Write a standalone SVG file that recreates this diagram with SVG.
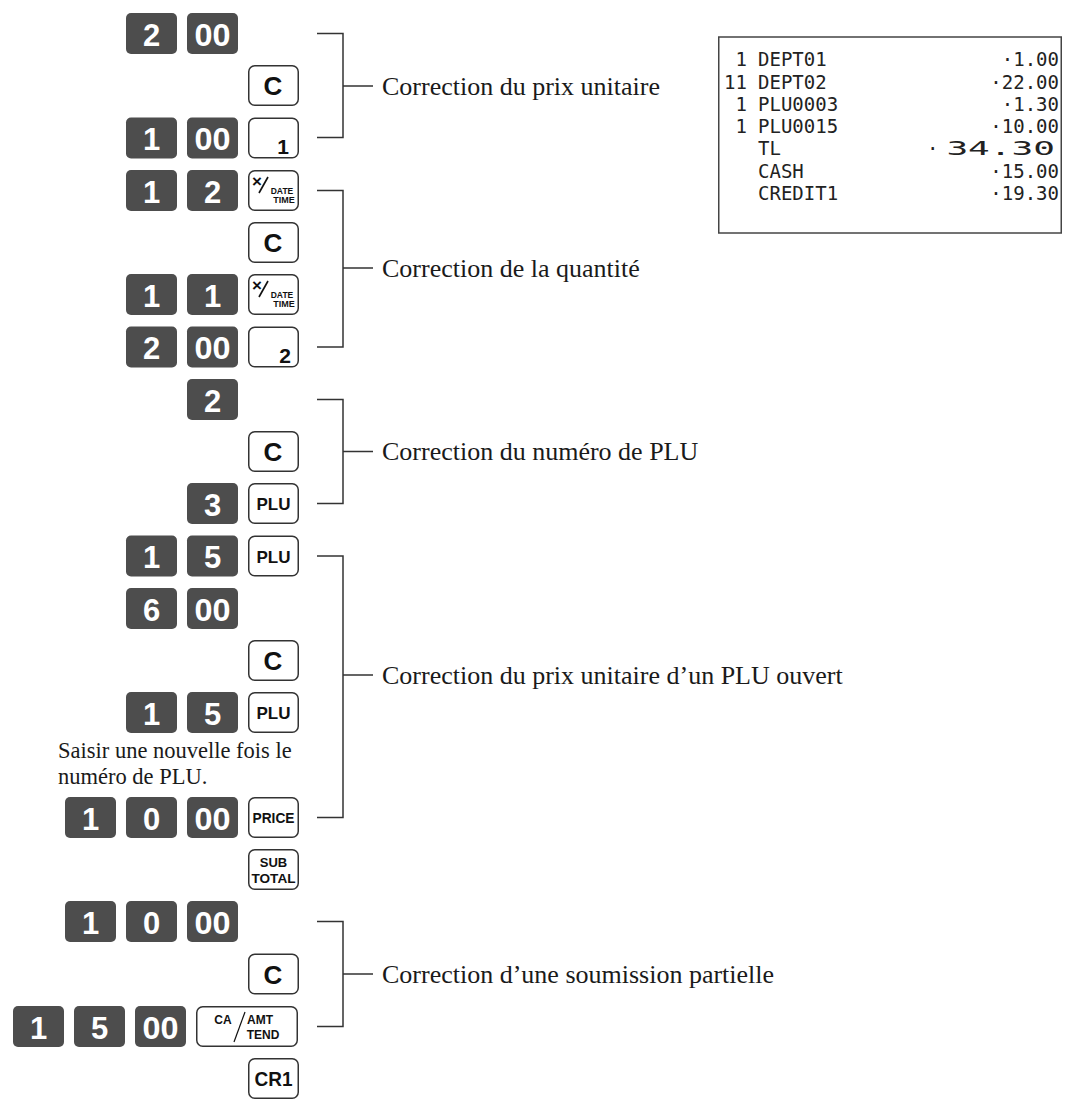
<svg xmlns="http://www.w3.org/2000/svg" width="1068" height="1104" viewBox="0 0 1068 1104">
<style>
.dk{fill:#4d4d4d}
.dt{fill:#fff;font-family:"Liberation Sans",Arial,sans-serif;font-weight:bold;font-size:31px;text-anchor:middle}
.wk{fill:#fff;stroke:#333;stroke-width:1.5}
.ct{fill:#111;font-family:"Liberation Sans",Arial,sans-serif;font-weight:bold;font-size:26px;text-anchor:middle}
.st{fill:#111;font-family:"Liberation Sans",Arial,sans-serif;font-weight:bold;text-anchor:middle}
.br{fill:none;stroke:#333;stroke-width:1.5}
.lb{fill:#1a1a1a;font-family:"Liberation Serif","Times New Roman",serif;font-size:26px}
.nt{fill:#1a1a1a;font-family:"Liberation Serif","Times New Roman",serif;font-size:22.5px}
.rc{fill:#222;font-family:"DejaVu Sans Mono",monospace;font-size:19px}
.re{text-anchor:end}
</style>
<defs>
<rect id="dkey" class="dk" width="51" height="41" rx="5"/>
<rect id="wkey" class="wk" x="0.75" y="0.75" width="49.5" height="39.5" rx="6"/>
</defs>
<rect width="1068" height="1104" fill="#fff"/>

<!-- row 0 -->
<g id="r0-2" transform="translate(126,13)"><use href="#dkey"/><text class="dt" x="25.5" y="32.5">2</text></g>
<g id="r0-00" transform="translate(187,13)"><use href="#dkey"/><text class="dt" x="25.5" y="32.5" textLength="36" lengthAdjust="spacingAndGlyphs">00</text></g>
<!-- row 1 -->
<g id="r1-C" transform="translate(248,65)"><use href="#wkey"/><text class="ct" x="25" y="30">C</text></g>
<!-- row 2 -->
<g id="r2-1" transform="translate(126,117.5)"><use href="#dkey"/><text class="dt" x="25.5" y="32.5">1</text></g>
<g id="r2-00" transform="translate(187,117.5)"><use href="#dkey"/><text class="dt" x="25.5" y="32.5" textLength="36" lengthAdjust="spacingAndGlyphs">00</text></g>
<g id="r2-k1" transform="translate(248,117.5)"><use href="#wkey"/><text class="st" x="35" y="36" font-size="21">1</text></g>
<!-- row 3 -->
<g id="r3-1" transform="translate(126,170)"><use href="#dkey"/><text class="dt" x="25.5" y="32.5">1</text></g>
<g id="r3-2" transform="translate(187,170)"><use href="#dkey"/><text class="dt" x="25.5" y="32.5">2</text></g>
<g id="r3-x" transform="translate(248,170)"><use href="#wkey"/><text class="st" x="9" y="17" font-size="17">×</text><path d="M11,23 L20,7" stroke="#111" stroke-width="1.6" fill="none"/><text class="st" x="34" y="24" font-size="8.5" font-weight="normal" fill="#666">DATE</text><text class="st" x="36" y="33" font-size="9">TIME</text></g>
<!-- row 4 -->
<g id="r4-C" transform="translate(248,222)"><use href="#wkey"/><text class="ct" x="25" y="30">C</text></g>
<!-- row 5 -->
<g id="r5-1" transform="translate(126,274)"><use href="#dkey"/><text class="dt" x="25.5" y="32.5">1</text></g>
<g id="r5-1b" transform="translate(187,274)"><use href="#dkey"/><text class="dt" x="25.5" y="32.5">1</text></g>
<g id="r5-x" transform="translate(248,274)"><use href="#wkey"/><text class="st" x="9" y="17" font-size="17">×</text><path d="M11,23 L20,7" stroke="#111" stroke-width="1.6" fill="none"/><text class="st" x="34" y="24" font-size="8.5" font-weight="normal" fill="#666">DATE</text><text class="st" x="36" y="33" font-size="9">TIME</text></g>
<!-- row 6 -->
<g id="r6-2" transform="translate(126,326.5)"><use href="#dkey"/><text class="dt" x="25.5" y="32.5">2</text></g>
<g id="r6-00" transform="translate(187,326.5)"><use href="#dkey"/><text class="dt" x="25.5" y="32.5" textLength="36" lengthAdjust="spacingAndGlyphs">00</text></g>
<g id="r6-k2" transform="translate(248,326.5)"><use href="#wkey"/><text class="st" x="37" y="36" font-size="21">2</text></g>
<!-- row 7 -->
<g id="r7-2" transform="translate(187,379)"><use href="#dkey"/><text class="dt" x="25.5" y="32.5">2</text></g>
<!-- row 8 -->
<g id="r8-C" transform="translate(248,431)"><use href="#wkey"/><text class="ct" x="25" y="30">C</text></g>
<!-- row 9 -->
<g id="r9-3" transform="translate(187,483)"><use href="#dkey"/><text class="dt" x="25.5" y="32.5">3</text></g>
<g id="r9-plu" transform="translate(248,483)"><use href="#wkey"/><text class="st" x="25.5" y="27" font-size="17">PLU</text></g>
<!-- row 10 -->
<g id="r10-1" transform="translate(126,535.5)"><use href="#dkey"/><text class="dt" x="25.5" y="32.5">1</text></g>
<g id="r10-5" transform="translate(187,535.5)"><use href="#dkey"/><text class="dt" x="25.5" y="32.5">5</text></g>
<g id="r10-plu" transform="translate(248,535.5)"><use href="#wkey"/><text class="st" x="25.5" y="27" font-size="17">PLU</text></g>
<!-- row 11 -->
<g id="r11-6" transform="translate(126,588)"><use href="#dkey"/><text class="dt" x="25.5" y="32.5">6</text></g>
<g id="r11-00" transform="translate(187,588)"><use href="#dkey"/><text class="dt" x="25.5" y="32.5" textLength="36" lengthAdjust="spacingAndGlyphs">00</text></g>
<!-- row 12 -->
<g id="r12-C" transform="translate(248,640)"><use href="#wkey"/><text class="ct" x="25" y="30">C</text></g>
<!-- row 13 -->
<g id="r13-1" transform="translate(126,692)"><use href="#dkey"/><text class="dt" x="25.5" y="32.5">1</text></g>
<g id="r13-5" transform="translate(187,692)"><use href="#dkey"/><text class="dt" x="25.5" y="32.5">5</text></g>
<g id="r13-plu" transform="translate(248,692)"><use href="#wkey"/><text class="st" x="25.5" y="27" font-size="17">PLU</text></g>
<!-- note -->
<g id="note"><text class="nt"><tspan x="58" y="757.5">Saisir une nouvelle fois le</tspan><tspan x="58" y="783.5">numéro de PLU.</tspan></text></g>
<!-- row 15 -->
<g id="r15-1" transform="translate(65,797)"><use href="#dkey"/><text class="dt" x="25.5" y="32.5">1</text></g>
<g id="r15-0" transform="translate(126,797)"><use href="#dkey"/><text class="dt" x="25.5" y="32.5">0</text></g>
<g id="r15-00" transform="translate(187,797)"><use href="#dkey"/><text class="dt" x="25.5" y="32.5" textLength="36" lengthAdjust="spacingAndGlyphs">00</text></g>
<g id="r15-price" transform="translate(248,797)"><use href="#wkey"/><text class="st" x="25.5" y="26" font-size="15" textLength="42" lengthAdjust="spacingAndGlyphs">PRICE</text></g>
<!-- row 16 -->
<g id="r16-sub" transform="translate(248,849)"><use href="#wkey"/><text class="st" x="25.5" y="18" font-size="13">SUB</text><text class="st" x="25.5" y="34" font-size="13" textLength="44" lengthAdjust="spacingAndGlyphs">TOTAL</text></g>
<!-- row 17 -->
<g id="r17-1" transform="translate(65,901)"><use href="#dkey"/><text class="dt" x="25.5" y="32.5">1</text></g>
<g id="r17-0" transform="translate(126,901)"><use href="#dkey"/><text class="dt" x="25.5" y="32.5">0</text></g>
<g id="r17-00" transform="translate(187,901)"><use href="#dkey"/><text class="dt" x="25.5" y="32.5" textLength="36" lengthAdjust="spacingAndGlyphs">00</text></g>
<!-- row 18 -->
<g id="r18-C" transform="translate(248,953.5)"><use href="#wkey"/><text class="ct" x="25" y="30">C</text></g>
<!-- row 19 -->
<g id="r19-1" transform="translate(13,1006)"><use href="#dkey"/><text class="dt" x="25.5" y="32.5">1</text></g>
<g id="r19-5" transform="translate(74,1006)"><use href="#dkey"/><text class="dt" x="25.5" y="32.5">5</text></g>
<g id="r19-00" transform="translate(135,1006)"><use href="#dkey"/><text class="dt" x="25.5" y="32.5" textLength="36" lengthAdjust="spacingAndGlyphs">00</text></g>
<g id="r19-ca" transform="translate(196,1006)"><rect class="wk" x="0.75" y="0.75" width="100.5" height="39.5" rx="6"/><text class="st" x="27" y="18" font-size="12" font-weight="normal">CA</text><path d="M38,36 L49,6" stroke="#111" stroke-width="1.2" fill="none"/><text class="st" x="64" y="18" font-size="12" font-weight="normal">AMT</text><text class="st" x="67" y="33" font-size="12" font-weight="normal">TEND</text></g>
<!-- row 20 -->
<g id="r20-cr1" transform="translate(248,1058)"><use href="#wkey"/><text class="st" x="25.5" y="28" font-size="20" textLength="38" lengthAdjust="spacingAndGlyphs">CR1</text></g>

<!-- connectors -->
<g id="connectors" class="br">
<path d="M317,33.5 H343 V137.5 H317 M343,86 H373"/>
<path d="M317,190.5 H343 V347 H317 M343,268 H373"/>
<path d="M317,399.5 H343 V503.5 H317 M343,451.5 H373"/>
<path d="M317,556 H343 V817.5 H317 M343,675 H373"/>
<path d="M317,921.5 H343 V1026.5 H317 M343,974 H373"/>
</g>
<g id="labels">
<text class="lb" x="382" y="95">Correction du prix unitaire</text>
<text class="lb" x="382" y="277">Correction de la quantité</text>
<text class="lb" x="382" y="460">Correction du numéro de PLU</text>
<text class="lb" x="382" y="684">Correction du prix unitaire d’un PLU ouvert</text>
<text class="lb" x="382" y="983">Correction d’une soumission partielle</text>
</g>

<!-- receipt -->
<g id="receipt">
<rect x="718.75" y="37" width="342.5" height="196" fill="#fff" stroke="#444" stroke-width="1.5"/>
<text class="rc re" x="747" y="66">1</text>
<text class="rc re" x="747" y="89">11</text>
<text class="rc re" x="747" y="111">1</text>
<text class="rc re" x="747" y="133">1</text>
<text class="rc" x="758" y="66">DEPT01</text>
<text class="rc" x="758" y="89">DEPT02</text>
<text class="rc" x="758" y="111">PLU0003</text>
<text class="rc" x="758" y="133">PLU0015</text>
<text class="rc" x="758" y="155">TL</text>
<text class="rc" x="758" y="178">CASH</text>
<text class="rc" x="758" y="200">CREDIT1</text>
<text class="rc re" x="1059" y="66">·1.00</text>
<text class="rc re" x="1059" y="89">·22.00</text>
<text class="rc re" x="1059" y="111">·1.30</text>
<text class="rc re" x="1059" y="133">·10.00</text>
<text class="rc" x="927" y="155">·</text>
<text class="rc re" transform="translate(1055,155) scale(1.9,1)">34.30</text>
<text class="rc re" x="1059" y="178">·15.00</text>
<text class="rc re" x="1059" y="200">·19.30</text>
</g>
</svg>
